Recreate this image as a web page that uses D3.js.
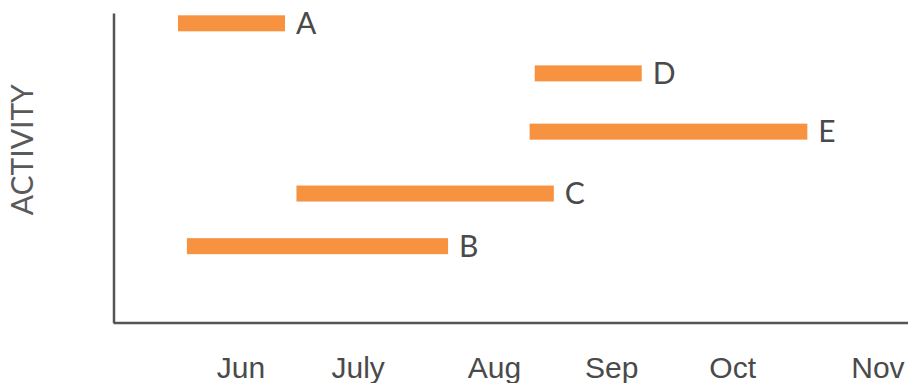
<!DOCTYPE html>
<html>
<head>
<meta charset="utf-8">
<script src="https://cdn.jsdelivr.net/npm/d3@7/dist/d3.min.js"></script>
<style>
  html, body { margin: 0; padding: 0; background: #fff; }
  svg { display: block; font-family: Lato, "Open Sans", sans-serif; }
</style>
</head>
<body>
<svg id="chart" width="908" height="383"></svg>
<script>
// Activities, their start/end (in months, 0 = start of May), and row position
const activities = ["A", "D", "E", "C", "B"];
const startMonth = [0.51, 3.31, 3.27, 1.44, 0.58];
const endMonth   = [1.35, 4.15, 5.45, 3.46, 2.63];
const rowPos     = [5.80, 4.83, 3.70, 2.50, 1.48];

// Month labels along the time axis
const monthLabels = ["Jun", "July", "Aug", "Sep", "Oct", "Nov"];
const monthTicks  = [1.00, 1.92, 2.99, 3.91, 4.86, 6.00];

const W = 908, H = 383;
const margin = { left: 113, right: 0, top: 13, bottom: 61 };

const svg = d3.select("#chart");

const x = d3.scaleLinear()
  .domain([0, 6.24])
  .range([margin.left, W - margin.right]);

const y = d3.scaleLinear()
  .domain([0, 6])
  .range([H - margin.bottom + 0.5, margin.top]);

const barH = 16;
const orange = "#F79241";
const ink = "#4a4a4a";
const fontSize = 30;

// Bars
const rows = activities.map((name, i) => ({
  name, start: startMonth[i], end: endMonth[i], row: rowPos[i]
}));

svg.append("g")
  .selectAll("rect")
  .data(rows)
  .join("rect")
  .attr("x", d => x(d.start))
  .attr("y", d => y(d.row) - barH / 2)
  .attr("width", d => x(d.end) - x(d.start))
  .attr("height", barH)
  .attr("fill", orange);

// Activity labels at the bar ends
svg.append("g")
  .selectAll("text")
  .data(rows)
  .join("text")
  .attr("x", d => x(d.end) + 11)
  .attr("y", d => y(d.row))
  .attr("dy", "0.36em")
  .attr("fill", ink)
  .attr("font-size", fontSize)
  .text(d => d.name);

// X axis
const xAxis = svg.append("g")
  .attr("transform", `translate(0,${y(0)})`)
  .call(d3.axisBottom(x)
    .tickValues(monthTicks)
    .tickFormat((d, i) => monthLabels[i])
    .tickSize(0)
    .tickSizeOuter(0));
xAxis.select(".domain").attr("stroke", "#555").attr("stroke-width", 2.5);
xAxis.selectAll("text")
  .attr("y", 55).attr("dy", 0)
  .attr("fill", ink)
  .attr("font-size", fontSize)
  .attr("font-family", null);

// Y axis (line only)
const yAxis = svg.append("g")
  .attr("transform", `translate(${x(0) + 0.5},0)`)
  .call(d3.axisLeft(y).tickValues([]).tickSizeOuter(0));
yAxis.select(".domain").attr("stroke", "#555").attr("stroke-width", 2.5);

// Y axis title
svg.append("text")
  .attr("transform", `translate(33,${y(3.35)}) rotate(-90)`)
  .attr("text-anchor", "middle")
  .attr("fill", "#5a5a5a")
  .attr("font-size", fontSize)
  .text("ACTIVITY");
</script>
</body>
</html>
